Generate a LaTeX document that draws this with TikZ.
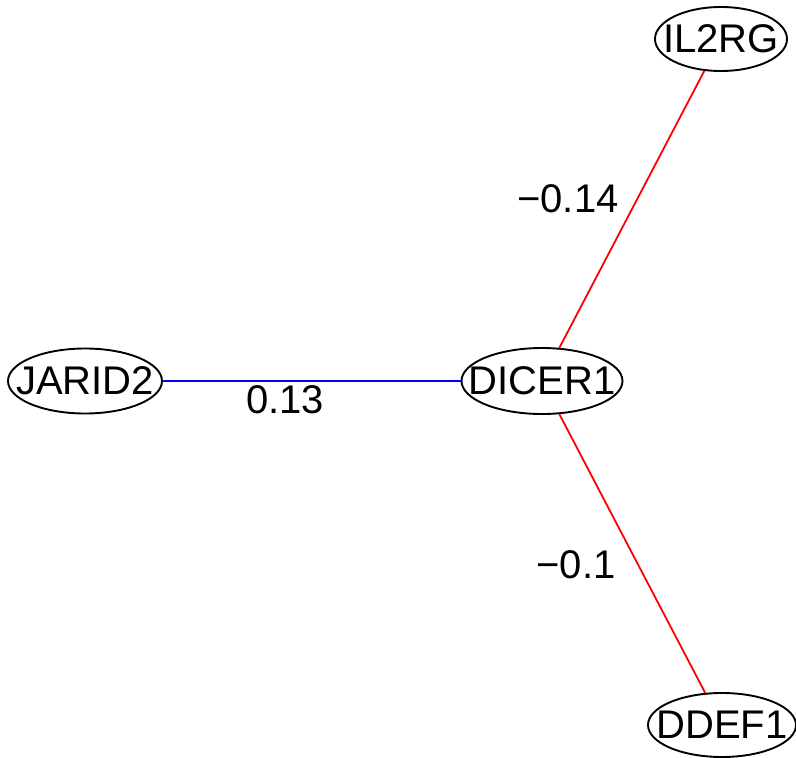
\documentclass[tikz,border=0pt]{standalone}
\usepackage{fontspec}
\setmainfont{Liberation Sans}
\usetikzlibrary{shapes.geometric}
\begin{document}
\begin{tikzpicture}[x=1pt,y=-1pt,
  gene/.style={draw=black,line width=1.9pt,ellipse,inner sep=0pt,
    label={[inner sep=0pt,font=\fontsize{40}{48}\selectfont]center:#1}},
  wlabel/.style={inner sep=0pt,font=\fontsize{40}{48}\selectfont},
  negedge/.style={draw=red,line width=1.8pt},
  posedge/.style={draw=blue,line width=1.8pt}]
\useasboundingbox (0,0) rectangle (796,758);
\node[gene=IL2RG,minimum width=132pt,minimum height=64pt] (il2rg) at (721,39) {};
\node[gene=JARID2,minimum width=154pt,minimum height=65pt] (jarid2) at (85,381) {};
\node[gene=DICER1,minimum width=161pt,minimum height=66pt] (dicer1) at (542,381) {};
\node[gene=DDEF1,minimum width=148pt,minimum height=64pt] (ddef1) at (722,725) {};
\draw[negedge] (dicer1) -- (il2rg);
\draw[posedge] (jarid2) -- (dicer1);
\draw[negedge] (dicer1) -- (ddef1);
\node[wlabel] (l1) at (568,199) {−0.14};
\node[wlabel] (l2) at (285,400) {0.13};
\node[wlabel] (l3) at (576,565) {−0.1};
\end{tikzpicture}
\end{document}
